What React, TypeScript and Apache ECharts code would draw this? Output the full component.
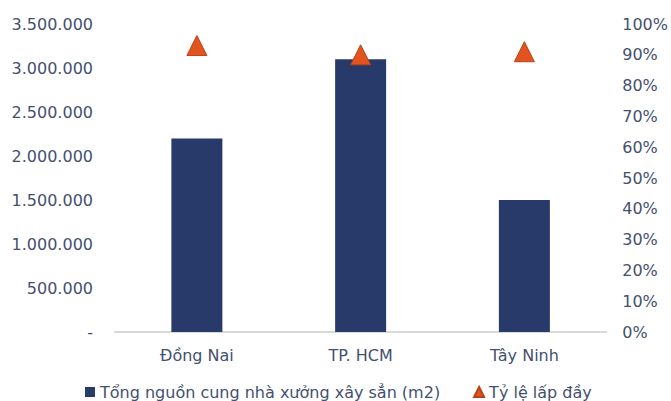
import React, { useEffect, useRef } from "react";
import * as echarts from "echarts";

const categories = ["Đồng Nai", "TP. HCM", "Tây Ninh"];
const supplyM2 = [2200000, 3100000, 1500000];
const occupancyRate = [0.93, 0.9, 0.91];
const supplyName = "Tổng nguồn cung nhà xưởng xây sẳn (m2)";
const occupancyName = "Tỷ lệ lấp đầy";

const textColor = "#45506F";
const fontFamily = "DejaVu Sans, sans-serif";

function formatThousands(v: number): string {
  if (v === 0) return "-";
  return String(v).replace(/\B(?=(\d{3})+(?!\d))/g, ".");
}

export default function App() {
  const ref = useRef<HTMLDivElement>(null);

  useEffect(() => {
    document.body.style.margin = "0";
    if (!ref.current) return;
    const chart = echarts.init(ref.current, null, { renderer: "svg" });
    chart.setOption({
      animation: false,
      backgroundColor: "#ffffff",
      textStyle: { fontFamily },
      grid: { left: 115, right: 62, top: 24, bottom: 69 },
      legend: {
        left: 80,
        top: 379,
        itemWidth: 10,
        itemHeight: 10,
        itemGap: 33,
        textStyle: { color: textColor, fontSize: 16, fontFamily },
        data: [
          { name: supplyName, icon: "rect" },
          { name: occupancyName, icon: "triangle" },
        ],
      },
      xAxis: {
        type: "category",
        data: categories,
        axisLine: { lineStyle: { color: "#D9D9D9", width: 2 } },
        axisTick: { show: false },
        axisLabel: { color: textColor, fontSize: 16, margin: 15, fontFamily },
      },
      yAxis: [
        {
          type: "value",
          min: 0,
          max: 3500000,
          interval: 500000,
          splitLine: { show: false },
          axisLine: { show: false },
          axisTick: { show: false },
          axisLabel: {
            color: textColor,
            fontSize: 16,
            margin: 22,
            fontFamily,
            formatter: (v: number) => formatThousands(v),
          },
        },
        {
          type: "value",
          min: 0,
          max: 1,
          interval: 0.1,
          splitLine: { show: false },
          axisLine: { show: false },
          axisTick: { show: false },
          axisLabel: {
            color: textColor,
            fontSize: 16,
            margin: 16,
            fontFamily,
            formatter: (v: number) => `${Math.round(v * 100)}%`,
          },
        },
      ],
      series: [
        {
          name: supplyName,
          type: "bar",
          data: supplyM2,
          barWidth: 51,
          itemStyle: { color: "#283A69" },
        },
        {
          name: occupancyName,
          type: "scatter",
          yAxisIndex: 1,
          data: occupancyRate,
          symbol: "triangle",
          symbolSize: [20, 20],
          itemStyle: {
            color: "#E2541E",
            borderColor: "#B9421A",
            borderWidth: 1,
            opacity: 1,
          },
          z: 5,
        },
      ],
    });
    return () => chart.dispose();
  }, []);

  return <div ref={ref} style={{ width: 671, height: 401 }} />;
}
